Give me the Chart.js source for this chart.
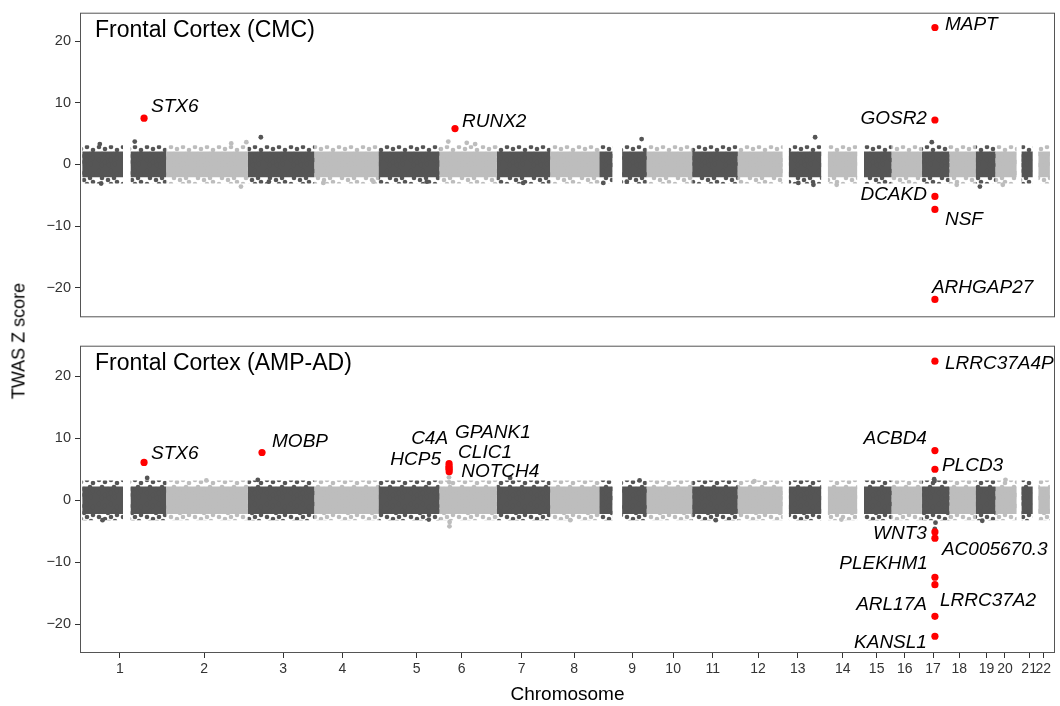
<!DOCTYPE html>
<html>
<head>
<meta charset="utf-8">
<script src="https://cdn.jsdelivr.net/npm/chart.js@4.4.1/dist/chart.umd.min.js"></script>
<style>
  body { margin: 0; background: #fff; width: 1060px; height: 706px; position: relative; overflow: hidden;
         font-family: "Liberation Sans", Arial, sans-serif; }
  #cmc { position: absolute; left: 0; top: 0; }
  #amp { position: absolute; left: 0; top: 333px; }
  #ylab { position: absolute; left: 19px; top: 341px; transform: translate(-50%, -50%) rotate(-90deg);
          font-size: 18px; color: #000; white-space: nowrap; }
</style>
</head>
<body>
<canvas id="cmc" width="1060" height="330"></canvas>
<canvas id="amp" width="1060" height="373"></canvas>
<div id="ylab">TWAS Z score</div>
<script>
// chromosome layout (hg19, Mb)
const chromosomes = ['1','2','3','4','5','6','7','8','9','10','11','12','13','14','15','16','17','18','19','20','21','22'];
const chromLengthMb = [249.25, 243.20, 198.02, 191.15, 180.92, 171.12, 159.14, 146.36, 141.21, 135.53, 135.01,
  133.85, 115.17, 107.35, 102.53, 90.35, 81.20, 78.08, 59.13, 63.03, 48.13, 51.30];
// tick positions, cumulative Mb
const tickPosMb = [112, 363, 598, 774, 995, 1129, 1308, 1464, 1637, 1759, 1877, 2012, 2130, 2264, 2365, 2449,
  2533, 2611, 2692, 2747, 2819, 2861];

// stretches covered by tested genes (chrom, from Mb, to Mb)
const cloudChrom = [1, 1, 2, 3, 4, 5, 6, 7, 8, 9, 9, 10, 11, 12, 13, 14, 15, 16, 17, 18, 19, 20, 21, 22];
const cloudFrom  = [0, 144, 0, 0, 0, 0, 0, 0, 0, 0, 68, 0, 0, 0, 19, 20, 20, 0, 0, 0, 0, 0, 15, 17];
const cloudTo    = [121, 249.25, 243.2, 198, 191, 181, 171, 159, 146, 39, 141, 135, 135, 134, 115, 107, 102, 90, 81, 78, 59, 63, 48, 51];

// bulk of the z scores (dense core, sparser edge)
const cmcCore = [-2.1, 2.1];
const cmcHalo = [-3.1, 3.1];
const ampCore = [-2.2, 2.2];
const ampHalo = [-3.2, 3.2];

// stray non-significant genes
const cmcOutChrom = [1, 1, 1, 2, 2, 2, 3, 3, 4, 4, 6, 6, 6, 5, 7, 9, 9, 9, 13, 13, 13, 14, 17, 19, 18, 20];
const cmcOutPos   = [52, 156, 56, 194, 239, 223, 39, 63, 176, 27, 27, 82, 107, 144, 79, 126, 12, 82, 47, 97, 92, 46, 29, 13, 22, 22];
const cmcOutZ     = [3.3, 3.7, -3.1, 3.4, 3.6, -3.6, 4.4, -2.8, -2.8, -3.0, 3.7, 3.5, 3.3, -2.8, -3.0, 4.1, -3.0, -2.8, -3.0, 4.4, -3.3, -3.3, 3.6, -3.6, -3.3, -3.3];

const ampOutChrom = [1, 1, 2, 3, 5, 6, 6, 6, 6, 7, 8, 9, 11, 12, 14, 17, 17, 17, 17, 19, 20];
const ampOutPos   = [193, 60, 120, 30, 150, 29, 30, 30.5, 31, 40, 60, 120, 70, 50, 60, 36, 38, 40, 37, 20, 30];
const ampOutZ     = [3.6, -3.2, 3.2, 3.3, -3.1, 3.7, 2.9, -4.2, -3.5, 3.6, -3.2, 3.2, -3.2, 3.1, -3.1, 3.4, -4.6, -3.6, 3.1, -3.3, 3.3];

// significant genes
const cmcGenes     = ['STX6', 'RUNX2', 'MAPT', 'GOSR2', 'DCAKD', 'NSF', 'ARHGAP27'];
const cmcGeneChrom = [1, 6, 17, 17, 17, 17, 17];
const cmcGenePos   = [183.7, 47.0, 38.3, 38.3, 38.3, 38.3, 38.3];
const cmcGeneZ     = [7.5, 5.8, 22.2, 7.2, -5.2, -7.3, -21.9];

const ampGenes     = ['STX6', 'MOBP', 'C4A', 'GPANK1', 'HCP5', 'CLIC1', 'NOTCH4', 'LRRC37A4P', 'ACBD4', 'PLCD3',
  'WNT3', 'AC005670.3', 'PLEKHM1', 'LRRC37A2', 'ARL17A', 'KANSL1'];
const ampGeneChrom = [1, 3, 6, 6, 6, 6, 6, 17, 17, 17, 17, 17, 17, 17, 17, 17];
const ampGenePos   = [183.7, 42.5, 29.4, 29.3, 29.1, 29.5, 29.7, 38.3, 38.3, 38.3, 38.3, 38.3, 38.3, 38.3, 38.3, 38.3];
const ampGeneZ     = [6.1, 7.7, 5.9, 5.5, 5.2, 5.0, 4.6, 22.4, 8.0, 5.0, -5.1, -6.1, -12.4, -13.6, -18.7, -21.9];

// label placement: [dx px, dy px, align]
const cmcLabelLayout = {
  STX6: [7, -11, 'left'], RUNX2: [7, -7, 'left'], MAPT: [10, -3, 'left'], GOSR2: [-8, -1, 'right'],
  DCAKD: [-8, -2, 'right'], NSF: [10, 10, 'left'], ARHGAP27: [-3, -12, 'left']
};
const ampLabelLayout = {
  STX6: [7, -9, 'left'], MOBP: [10, -11, 'left'], C4A: [-1, -25, 'right'], GPANK1: [6, -33, 'left'],
  HCP5: [-8, -8, 'right'], CLIC1: [9, -17, 'left'], NOTCH4: [12, 0, 'left'], LRRC37A4P: [10, 2, 'left'],
  ACBD4: [-8, -12, 'right'], PLCD3: [7, -4, 'left'], WNT3: [-8, 2, 'right'], 'AC005670.3': [7, 12, 'left'],
  PLEKHM1: [-7, -14, 'right'], LRRC37A2: [5, 16, 'left'], ARL17A: [-8, -12, 'right'], KANSL1: [-8, 6, 'right']
};

const FONT = '"Liberation Sans", Arial, Helvetica, sans-serif';
const DARK = '#555555', LIGHT = '#bdbdbd';

// speckled texture for the ragged edge of each cloud
const SPECKLE = [[3, 3], [9, 5], [15, 3], [21, 6], [6, 10], [12, 12], [18, 10], [3, 16], [9, 18], [15, 16],
  [21, 14], [6, 21], [13, 21], [19, 20]];
function speckle(color) {
  const c = document.createElement('canvas');
  c.width = 24; c.height = 24;
  const g = c.getContext('2d');
  g.fillStyle = color;
  SPECKLE.forEach(([x, y]) => { g.beginPath(); g.arc(x, y, 2.3, 0, Math.PI * 2); g.fill(); });
  return g.createPattern(c, 'repeat');
}
const darkSpeckle = speckle(DARK), lightSpeckle = speckle(LIGHT);

const chromStart = [];
chromLengthMb.reduce((acc, len, i) => { chromStart[i] = acc; return acc + len; }, 0);
const cum = (chrom, pos) => chromStart[chrom - 1] + pos;
const isDark = chrom => chrom % 2 === 1;

function cloudSets(core, halo) {
  const sets = [];
  cloudChrom.forEach((c, i) => {
    const x0 = cum(c, cloudFrom[i]), x1 = cum(c, cloudTo[i]);
    const bands = [
      [halo, isDark(c) ? darkSpeckle : lightSpeckle],
      [core, isDark(c) ? DARK : LIGHT]
    ];
    bands.forEach(([band, color]) => {
      sets.push({
        type: 'line',
        data: [{x: x0, y: band[0]}, {x: x0, y: band[1]}, {x: x1, y: band[1]}, {x: x1, y: band[0]}],
        fill: 'shape', backgroundColor: color, borderColor: 'rgba(0,0,0,0)', borderWidth: 0,
        pointRadius: 0, tension: 0, order: 3
      });
    });
  });
  return sets;
}

function panelPlugin(title, genes, layout) {
  return {
    id: 'panel',
    afterDatasetsDraw(chart) {
      const {ctx, chartArea: a} = chart;
      const pts = chart.getDatasetMeta(0).data;
      ctx.save();
      ctx.font = 'italic 19px ' + FONT;
      ctx.fillStyle = '#000';
      ctx.textBaseline = 'middle';
      genes.forEach((g, i) => {
        const [dx, dy, align] = layout[g];
        ctx.textAlign = align;
        ctx.fillText(g, pts[i].x + dx, pts[i].y + dy);
      });
      ctx.font = '23px ' + FONT;
      ctx.textAlign = 'left';
      ctx.fillText(title, a.left + 15, a.top + 18);
      ctx.strokeStyle = '#555';
      ctx.lineWidth = 1;
      ctx.strokeRect(a.left + 0.5, a.top + 0.5, a.right - a.left - 1, a.bottom - a.top - 1);
      ctx.restore();
    }
  };
}

function makePanel(id, cfg) {
  const datasets = [
    {
      data: cfg.geneChrom.map((c, i) => ({x: cum(c, cfg.genePos[i]), y: cfg.geneZ[i]})),
      backgroundColor: '#ff0000', borderWidth: 0, pointRadius: 3.6, order: 0
    },
    {
      data: cfg.outChrom.map((c, i) => ({x: cum(c, cfg.outPos[i]), y: cfg.outZ[i]})),
      backgroundColor: cfg.outChrom.map(c => isDark(c) ? DARK : LIGHT), borderWidth: 0, pointRadius: 2.4, order: 1
    },
    ...cloudSets(cfg.core, cfg.halo)
  ];

  return new Chart(document.getElementById(id), {
    type: 'scatter',
    data: {datasets},
    options: {
      responsive: false,
      animation: false,
      events: [],
      layout: {padding: {top: 10, right: 5, bottom: cfg.showX ? 0 : 10, left: 0}},
      plugins: {legend: {display: false}, tooltip: {enabled: false}},
      scales: {
        x: {
          type: 'linear', min: -7, max: 2896,
          display: cfg.showX,
          afterBuildTicks: s => { s.ticks = tickPosMb.map(v => ({value: v})); },
          afterFit: s => { s.height = cfg.showX ? 53 : 0; },
          ticks: {
            autoSkip: false, maxRotation: 0, padding: 3, color: '#333',
            font: {family: FONT, size: 14},
            callback: (v, i) => chromosomes[i]
          },
          grid: {drawOnChartArea: false, drawTicks: true, tickLength: 5, color: '#333', tickWidth: 1},
          border: {display: false},
          title: {display: true, text: 'Chromosome', color: '#000', font: {family: FONT, size: 19}, padding: {top: 0, bottom: 0}}
        },
        y: {
          type: 'linear', min: cfg.yMin, max: cfg.yMax,
          afterBuildTicks: s => { s.ticks = [-20, -10, 0, 10, 20].map(v => ({value: v})); },
          afterFit: s => { s.width = 80; },
          ticks: {
            padding: 4, color: '#333', font: {family: FONT, size: 14.5},
            callback: v => v < 0 ? '\u2212' + Math.abs(v) : String(v)
          },
          grid: {drawOnChartArea: false, drawTicks: true, tickLength: 5, color: '#333', tickWidth: 1},
          border: {display: false}
        }
      }
    },
    plugins: [panelPlugin(cfg.title, cfg.genes, cfg.layout)]
  });
}

makePanel('cmc', {
  title: 'Frontal Cortex (CMC)', showX: false, yMin: -24.8, yMax: 24.6,
  genes: cmcGenes, geneChrom: cmcGeneChrom, genePos: cmcGenePos, geneZ: cmcGeneZ, layout: cmcLabelLayout,
  outChrom: cmcOutChrom, outPos: cmcOutPos, outZ: cmcOutZ, core: cmcCore, halo: cmcHalo
});
makePanel('amp', {
  title: 'Frontal Cortex (AMP-AD)', showX: true, yMin: -24.6, yMax: 24.9,
  genes: ampGenes, geneChrom: ampGeneChrom, genePos: ampGenePos, geneZ: ampGeneZ, layout: ampLabelLayout,
  outChrom: ampOutChrom, outPos: ampOutPos, outZ: ampOutZ, core: ampCore, halo: ampHalo
});
</script>
</body>
</html>
